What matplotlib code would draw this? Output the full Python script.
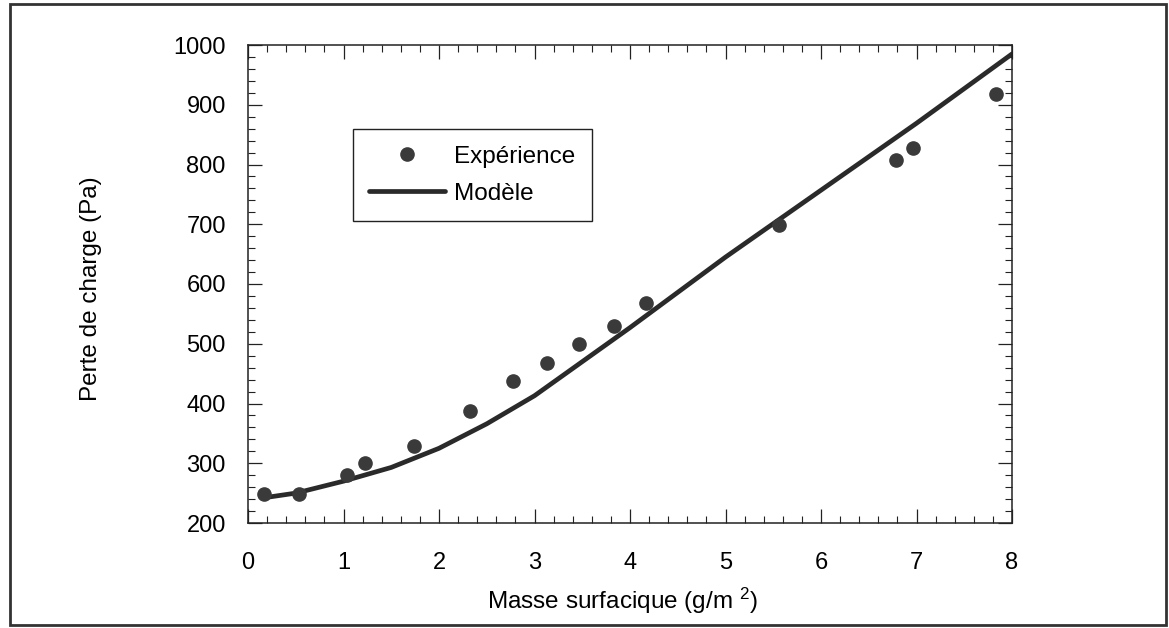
import matplotlib
matplotlib.use("Agg")
import matplotlib.pyplot as plt
from matplotlib.patches import Rectangle
from matplotlib.ticker import MultipleLocator

# points mesures
x_exp = [0.17, 0.53, 1.04, 1.22, 1.74, 2.32, 2.78, 3.13, 3.47, 3.83, 4.17, 5.56, 6.79, 6.96, 7.83]
y_exp = [249, 249, 280, 301, 329, 388, 438, 468, 499, 529, 569, 698, 808, 828, 918]

# courbe du modele
x_mod = [0.2, 0.5, 1.0, 1.5, 2.0, 2.5, 3.0, 3.5, 4.0, 4.5, 5.0, 5.5, 6.0, 6.5, 7.0, 7.5, 8.0]
y_mod = [243, 250, 270, 293, 325, 366, 413, 470, 527, 586, 645, 701, 757, 813, 869, 927, 985]

plt.rcParams['font.family'] = ['Liberation Sans', 'DejaVu Sans']
plt.rcParams['mathtext.fontset'] = 'custom'
plt.rcParams['mathtext.rm'] = 'Liberation Sans'
plt.rcParams['mathtext.it'] = 'Liberation Sans'

fig = plt.figure(figsize=(11.69, 6.28), dpi=100)
ax = fig.add_axes([248 / 1169, 1 - 523 / 628, 764 / 1169, 478 / 628])

ax.plot(x_mod, y_mod, color='#2a2a2a', lw=3.4, solid_joinstyle='round',
        solid_capstyle='round', label='Modèle', zorder=2)
ax.plot(x_exp, y_exp, 'o', color='#3a3a3a', ms=9.5, label='Expérience', zorder=3)

ax.set_xlim(0, 8)
ax.set_ylim(200, 1000)
ax.xaxis.set_major_locator(MultipleLocator(1))
ax.xaxis.set_minor_locator(MultipleLocator(0.2))
ax.yaxis.set_major_locator(MultipleLocator(100))
ax.yaxis.set_minor_locator(MultipleLocator(20))
ax.tick_params(which='both', direction='in', top=True, right=True, color='#222222')
ax.tick_params(which='major', length=10, width=0.9, labelsize=17)
ax.tick_params(which='minor', length=5, width=0.8)
ax.tick_params(axis='x', which='major', pad=21)
ax.tick_params(axis='y', which='major', pad=16)
for s in ax.spines.values():
    s.set_linewidth(1.1)
    s.set_color('#222222')

ax.set_xlabel('Masse surfacique (g/m $^2$)', fontsize=17.5)
ax.set_ylabel('Perte de charge (Pa)', fontsize=17.5)
ax.xaxis.set_label_coords(0.49, -0.131)
ax.yaxis.set_label_coords(-0.191, 0.49)

handles, labels = ax.get_legend_handles_labels()
leg = ax.legend(handles[::-1], labels[::-1], loc='upper left',
                bbox_to_anchor=(0.137, 0.824), fontsize=17.5, frameon=True,
                fancybox=False, edgecolor='#222222', framealpha=1,
                borderpad=0.68, labelspacing=0.62, handlelength=3.1,
                handletextpad=0.4, borderaxespad=0)
leg.get_frame().set_linewidth(1.0)

# cadre autour de la figure
fig.patches.append(Rectangle((10 / 1169, 3 / 628), 1156 / 1169, 621 / 628,
                             transform=fig.transFigure, fill=False,
                             edgecolor='#333333', lw=2))

fig.savefig('out.png', dpi=100)
